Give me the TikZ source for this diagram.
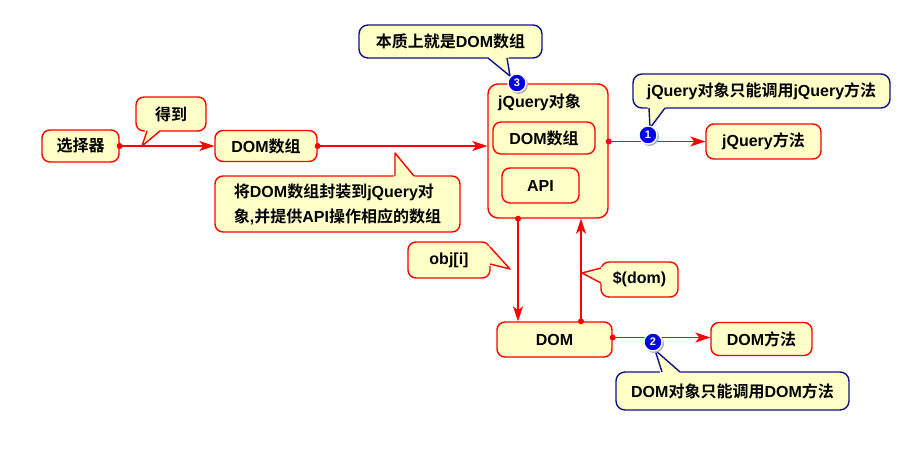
\documentclass[tikz,border=0pt]{standalone}
\usepackage{fontspec}
\setmainfont{Noto Sans CJK SC}[BoldFont={Noto Sans CJK SC Bold}]
\newfontfamily\lat{Liberation Sans}
\usetikzlibrary{arrows.meta,calc}
\definecolor{boxfill}{HTML}{FFFFC8}
\definecolor{rd}{HTML}{FF0000}
\definecolor{nv}{HTML}{10108C}
\definecolor{ballblue}{HTML}{0000E0}
\begin{document}
\begin{tikzpicture}[x=1pt,y=-1pt,
  every node/.style={font=\bfseries\fontsize{16}{25}\selectfont, inner sep=0pt},
  box/.style={draw=rd, fill=boxfill, line width=1.4pt, rounded corners=8pt},
  nbox/.style={draw=nv, fill=boxfill, line width=1.4pt, rounded corners=9pt},
  rptr/.style={draw=rd, line width=1.4pt, line join=round},
  bptr/.style={draw=nv, line width=1.4pt, line join=round},
  conn/.style={draw=rd, line width=1.3pt, -{Stealth[length=15pt,width=10pt,inset=4pt]}},
  dot/.style={fill=rd},
  ball/.style={circle, fill=ballblue, draw=white, line width=1.3pt, minimum size=18pt, text=white, font=\lat\bfseries\fontsize{11}{11}\selectfont},
]
\useasboundingbox (0,0) rectangle (914,475);

% main boxes
\node[box, minimum width=77, minimum height=32] (sel) at (80.5,146) {选择器};
\node[box, minimum width=102, minimum height=31] (dom1) at (266,146) {{\lat DOM}数组};
\node[box, rounded corners=10pt, minimum width=120, minimum height=134] (jq) at (548,151) {};
\node[anchor=west] (jqt) at (498,102) {{\lat jQuery}对象};
\node[box, minimum width=102, minimum height=32] (jqdom) at (544,138) {{\lat DOM}数组};
\node[box, minimum width=77, minimum height=35] (api) at (540.5,185.5) {\lat API};
\node[box, minimum width=115, minimum height=35] (jqm) at (763.5,141.5) {{\lat jQuery}方法};
\node[box, minimum width=115, minimum height=35] (dom) at (554.5,339.5) {\lat DOM};
\node[box, minimum width=101, minimum height=33] (domm) at (761.5,339) {{\lat DOM}方法};

% red callouts
\node[box, minimum width=70, minimum height=34] (got) at (171,114) {得到};
\fill[boxfill] (145.5,129) -- (142,146) -- (161.5,129) -- cycle;
\draw[rptr] (147,131) -- (142,146) -- (160,131);

\node[box, minimum width=245, minimum height=56, align=left] (wrap) at (337.5,204)
  {将{\lat DOM}数组封装到{\lat jQuery}对\\象{\lat ,}并提供{\lat API}操作相应的数组};
\fill[boxfill] (393.5,178) -- (395,153) -- (415.5,178) -- cycle;
\draw[rptr] (395,176) -- (395,153) -- (414,176);

\node[box, minimum width=82, minimum height=36] (obj) at (449,260) {\lat obj[i]};
\fill[boxfill] (488,245.5) -- (510,269) -- (488,265.5) -- cycle;
\draw[rptr] (490,247) -- (510,269) -- (490,264);

\node[box, minimum width=77, minimum height=35] (sd) at (639.5,279.5) {\lat \$(dom)};
\fill[boxfill] (603,266.5) -- (582,273) -- (603,284.5) -- cycle;
\draw[rptr] (601,268) -- (582,273) -- (601,283);

% blue callouts
\node[nbox, minimum width=183, minimum height=33] (ess) at (450.5,41.5) {本质上就是{\lat DOM}数组};
\fill[boxfill] (486.5,56) -- (510,76) -- (508.5,56) -- cycle;
\draw[bptr] (488,58) -- (510,76) -- (507,58);

\node[nbox, minimum width=257, minimum height=34] (c1) at (761.5,91) {{\lat jQuery}对象只能调用{\lat jQuery}方法};
\fill[boxfill] (647.5,106) -- (650,128) -- (666.5,106) -- cycle;
\draw[bptr] (649,108) -- (650,128) -- (665,108);

\node[nbox, minimum width=233, minimum height=38] (c2) at (732.5,391) {{\lat DOM}对象只能调用{\lat DOM}方法};
\fill[boxfill] (660.5,374) -- (655,350) -- (681.5,374) -- cycle;
\draw[bptr] (662,372) -- (655,350) -- (680,372);

% connectors
\draw[conn] (sel.east) -- (dom1.west);
\fill[dot] (sel.east) circle (3);
\draw[conn] (dom1.east) -- (dom1.east -| jq.west);
\fill[dot] (dom1.east) circle (3);
\draw[conn] (jqm.west -| jq.east) -- (jqm.west);
\fill[dot] (jqm.west -| jq.east) circle (3);
\draw[conn] ([xshift=-30]jq.south) -- ([xshift=-30]jq.south |- dom.north);
\fill[dot] ([xshift=-30]jq.south) circle (3);
\draw[conn] ([xshift=26.5]dom.north) -- ([xshift=26.5]dom.north |- jq.south);
\fill[dot] ([xshift=26.5]dom.north) circle (3);
\draw[conn] ([yshift=2]dom.east) -- ([yshift=2]dom.east -| domm.west);
\fill[dot] ([yshift=2]dom.east) circle (3);

% numbered balls
\fill[black!30] (649.5,136.5) circle (9.5);
\node[ball] (b1) at (648,135) {1};
\fill[black!30] (654.5,343.5) circle (9.5);
\node[ball] (b2) at (653,342) {2};
\fill[black!30] (518.5,84.5) circle (9.5);
\node[ball] (b3) at (517,83) {3};
\end{tikzpicture}
\end{document}
